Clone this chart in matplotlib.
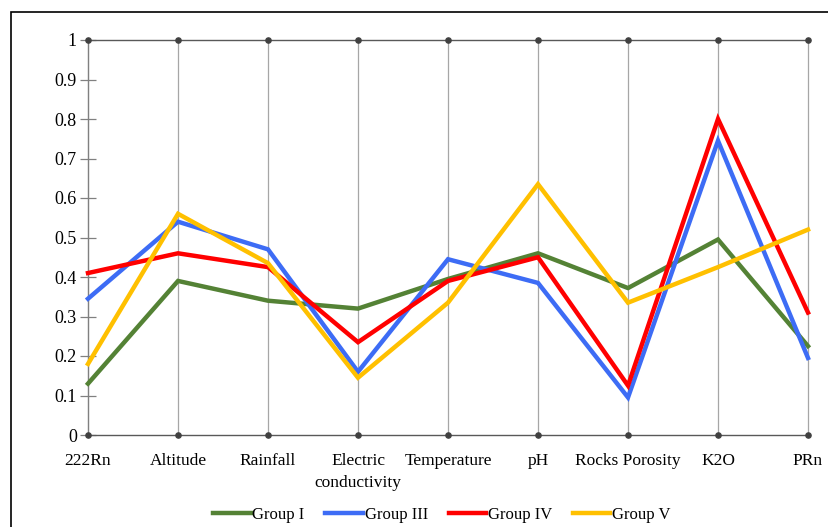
import matplotlib.pyplot as plt
import numpy as np
from matplotlib.patches import Rectangle

plt.rcParams['font.family'] = ['Liberation Serif', 'DejaVu Serif']

# categories (axes of the parallel plot)
categories = ['222Rn', 'Altitude', 'Rainfall', 'Electric\nconductivity',
              'Temperature', 'pH', 'Rocks Porosity', 'K2O', 'PRn']

# normalised values per group
group_1 = [0.13, 0.39, 0.34, 0.32, 0.395, 0.46, 0.372, 0.495, 0.225]
group_3 = [0.345, 0.54, 0.47, 0.16, 0.445, 0.385, 0.095, 0.745, 0.195]
group_4 = [0.41, 0.46, 0.425, 0.235, 0.39, 0.45, 0.125, 0.80, 0.31]
group_5 = [0.18, 0.56, 0.435, 0.145, 0.335, 0.635, 0.335, 0.425, 0.52]

series = [('Group I', group_1, '#548235'),
          ('Group III', group_3, '#3d6cf5'),
          ('Group IV', group_4, '#ff0000'),
          ('Group V', group_5, '#ffc000')]

yticks = np.arange(0, 1.01, 0.1)

fig = plt.figure(figsize=(8.29, 5.27), dpi=100)
ax = fig.add_axes([88/829, 1-435/527, 720/829, 395/527])

x = np.arange(len(categories))

# vertical grid lines at each category
for xi in x:
    ax.axvline(xi, color='#a6a6a6', lw=0.9, zorder=1, clip_on=False)

for name, vals, col in series:
    ax.plot(x, vals, color=col, lw=3.2, label=name, zorder=3,
            solid_joinstyle='miter', clip_on=False)

# top and bottom lines with dots
ax.plot([x[0], x[-1]], [1, 1], color='#595959', lw=1.0, zorder=2, clip_on=False)
ax.plot([x[0], x[-1]], [0, 0], color='#595959', lw=1.0, zorder=2, clip_on=False)
ax.scatter(x, np.ones(len(x)), s=14, color='#404040', zorder=4, clip_on=False)
ax.scatter(x, np.zeros(len(x)), s=14, color='#404040', zorder=4, clip_on=False)

ax.set_xlim(x[0], x[-1])
ax.set_ylim(0, 1)
for s in ['top', 'right', 'bottom']:
    ax.spines[s].set_visible(False)
ax.spines['left'].set_color('#808080')
ax.spines['left'].set_linewidth(0.9)

ax.set_yticks(yticks)
ax.set_yticklabels(['0' if v == 0 else ('1' if v == 1 else f'{v:.1f}') for v in yticks],
                   fontsize=13)
ax.tick_params(axis='y', direction='inout', length=12, width=0.9,
               color='#808080', pad=2)
ax.set_xticks(x)
ax.set_xticklabels(categories, fontsize=12.5, linespacing=1.5, va='top')
ax.tick_params(axis='x', length=0, pad=13)

fig.legend(loc='lower center', bbox_to_anchor=(0.533, -0.02), ncol=4,
           frameon=False, fontsize=12, handlelength=2.25, handletextpad=0.1,
           columnspacing=1.25)

# outer frame
fig.patches.append(Rectangle((11/829, 1-535/527), 830/829, 523/527,
                             transform=fig.transFigure, fill=False,
                             edgecolor='black', lw=1.2))

fig.savefig('out.png', dpi=100)
